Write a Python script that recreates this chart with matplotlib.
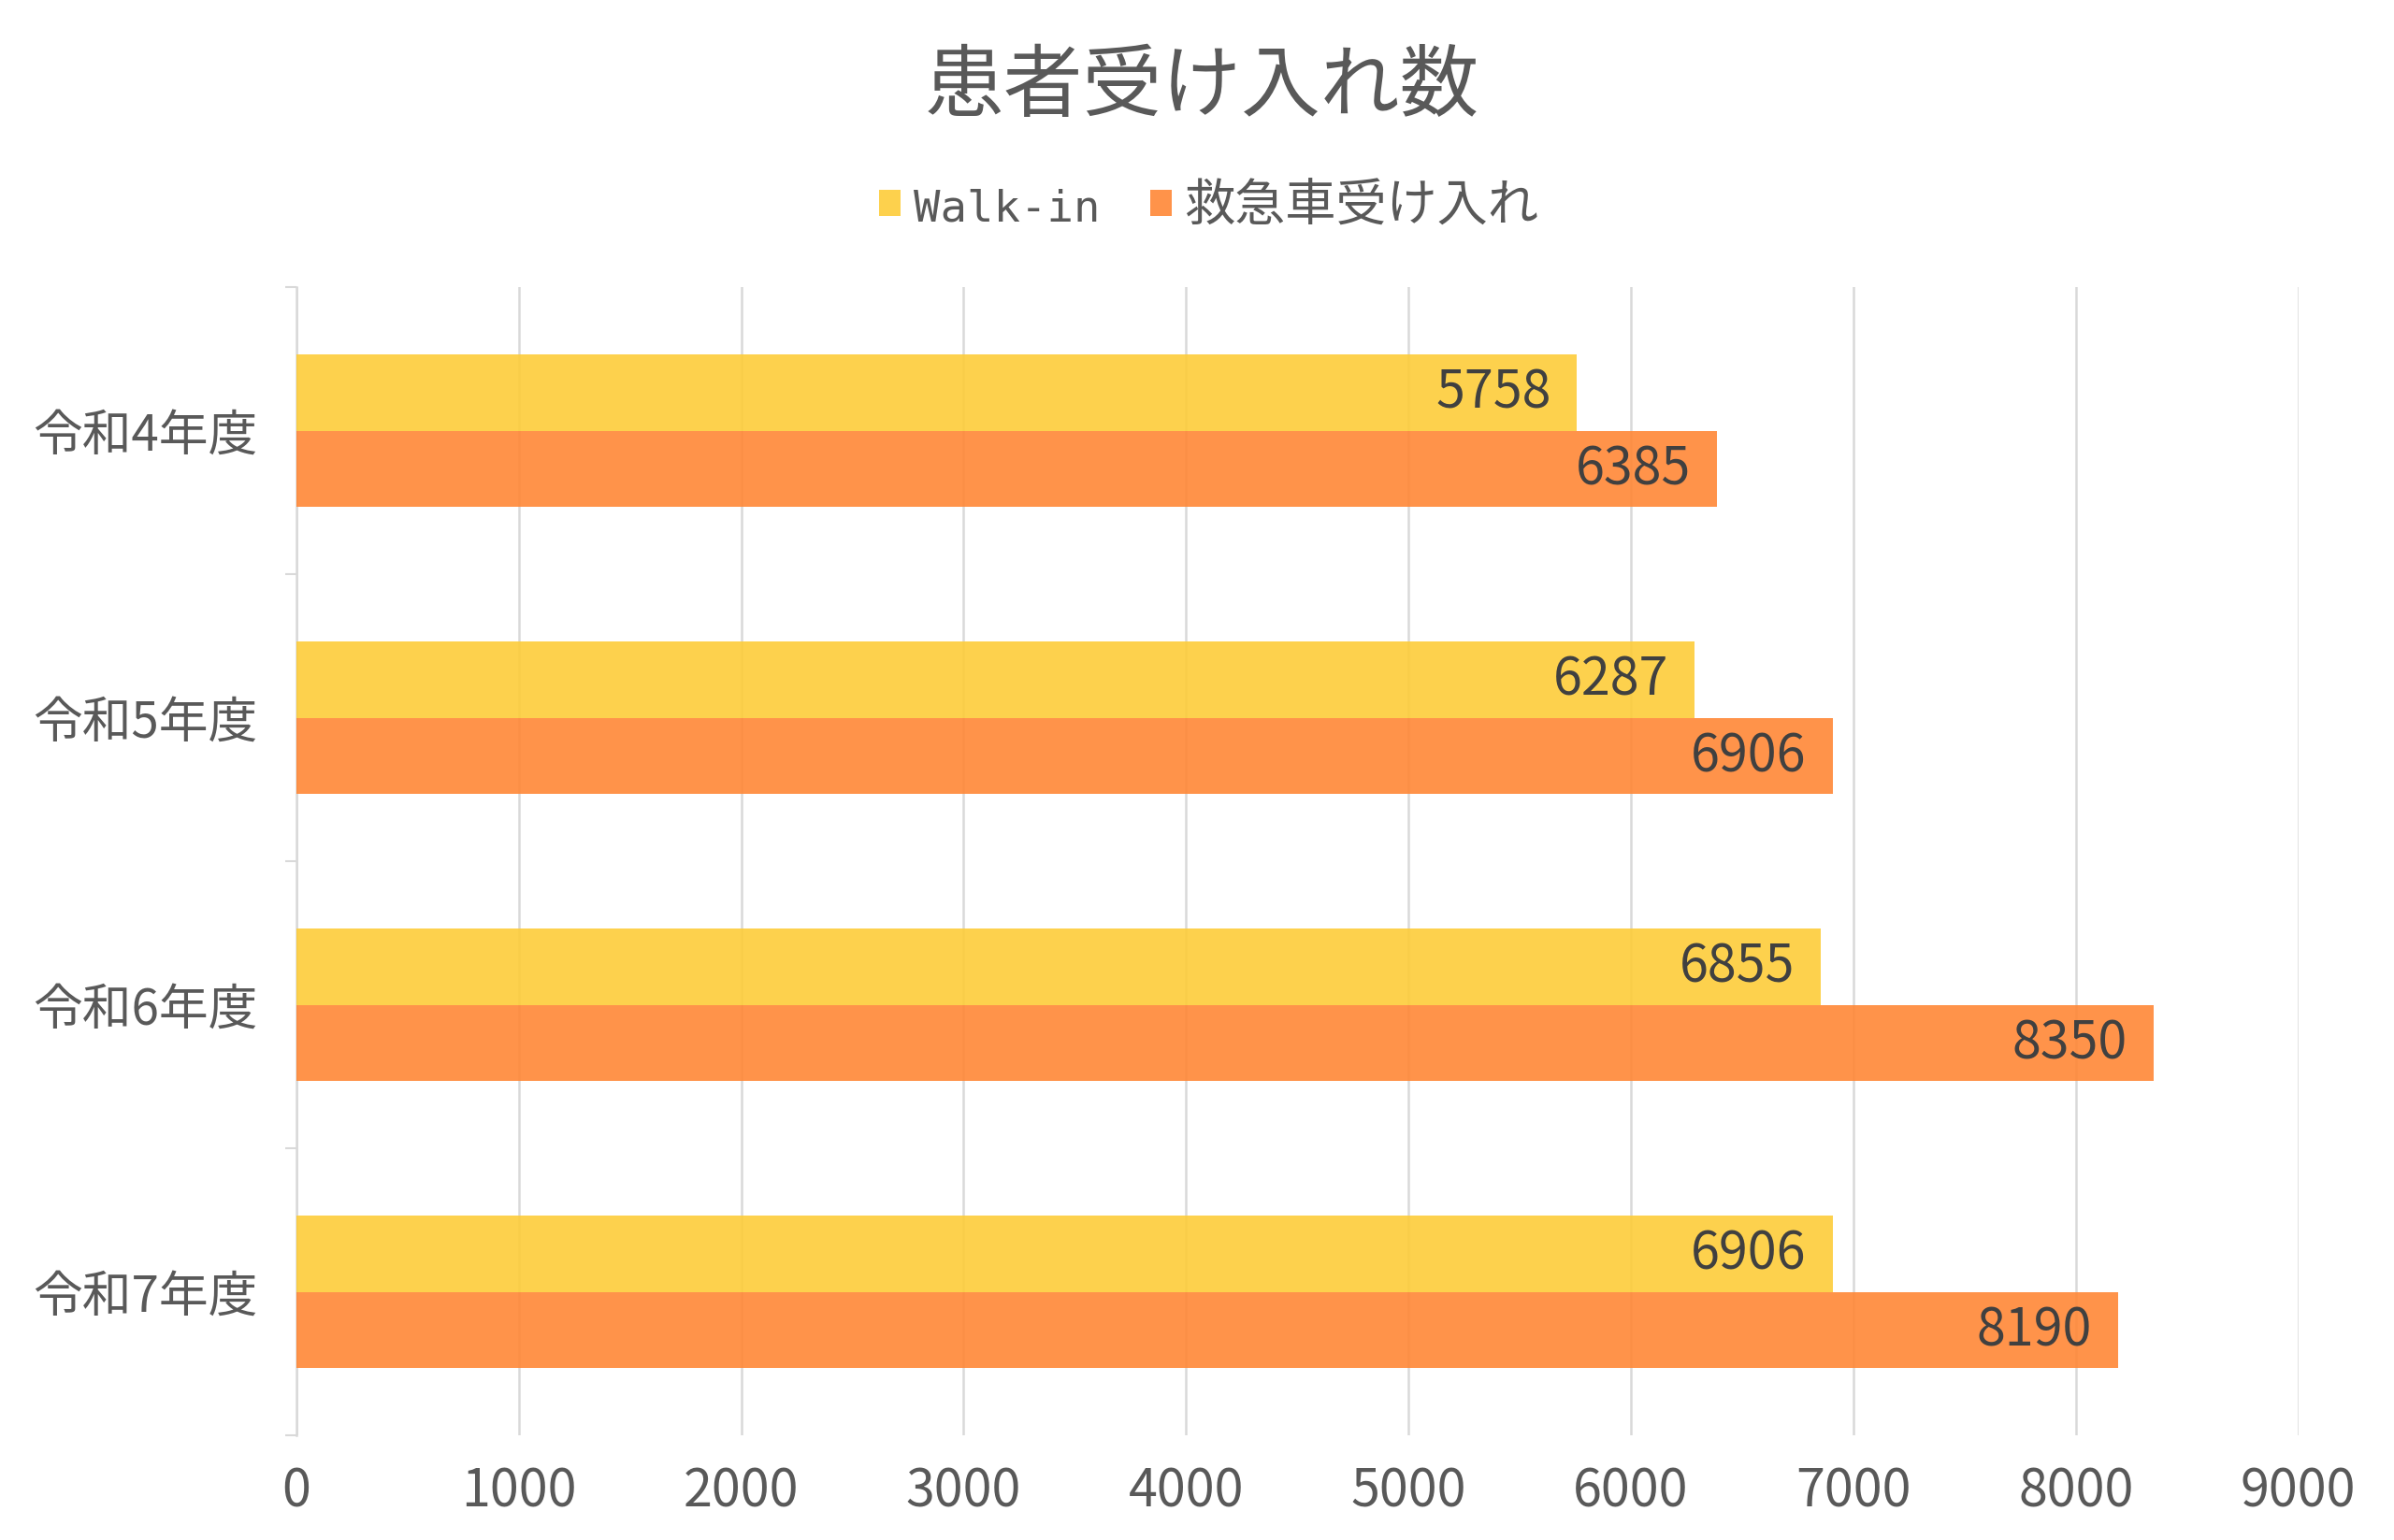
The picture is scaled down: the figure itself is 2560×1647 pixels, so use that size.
import numpy as np
from matplotlib import pyplot as plt

plt.rcParams['font.family'] = ['Noto Sans CJK JP', 'DejaVu Sans']

categories = ['令和4年度', '令和5年度', '令和6年度', '令和7年度']
walk_in = [5758, 6287, 6855, 6906]
ambulance = [6385, 6906, 8350, 8190]
series_names = ['Walk-in', '救急車受け入れ']
xticks = [0, 1000, 2000, 3000, 4000, 5000, 6000, 7000, 8000, 9000]

text_gray = '#595959'
label_dark = '#404040'
grid_gray = '#D9D9D9'

fig = plt.figure(figsize=(25.6, 16.47), dpi=100)
ax = fig.add_axes([0.1238, 0.068, 0.8362, 0.7456])

y = np.arange(len(categories))
h = 0.267
b1 = ax.barh(y - h / 2, walk_in, height=h, color='#FDCC39', alpha=0.9,
             label=series_names[0], zorder=3)
b2 = ax.barh(y + h / 2, ambulance, height=h, color='#FF8736', alpha=0.9,
             label=series_names[1], zorder=3)

# value labels inside the bar end
for bars, vals in ((b1, walk_in), (b2, ambulance)):
    for rect, v in zip(bars, vals):
        ax.annotate(str(v), (v, rect.get_y() + rect.get_height() / 2),
                    xytext=(-20, -1), textcoords='offset points',
                    ha='right', va='center', fontsize=40, color=label_dark,
                    zorder=4)

ax.set_xlim(0, 9000)
ax.set_ylim(3.5, -0.5)
ax.set_xticks(xticks)
ax.set_xticklabels([str(t) for t in xticks], fontsize=40, color=text_gray)
ax.tick_params(axis='x', length=0, pad=23)

ax.set_yticks(y)
ax.set_yticklabels(categories, fontsize=38, color=text_gray)
ax.tick_params(axis='y', which='major', length=0, pad=30)
ax.set_yticks(np.arange(-0.5, 4.0, 1.0), minor=True)
ax.tick_params(axis='y', which='minor', length=9, width=1.5, color=grid_gray)

ax.grid(axis='x', color=grid_gray, linewidth=1.8, zorder=0)
ax.set_axisbelow(True)
for s in ['top', 'right', 'bottom']:
    ax.spines[s].set_visible(False)
ax.spines['left'].set_color(grid_gray)
ax.spines['left'].set_linewidth(1.8)

fig.text(0.502, 0.943, '患者受け入れ数', ha='center', va='center',
         fontsize=61, color=text_gray)

leg = fig.legend(loc='center', bbox_to_anchor=(0.505, 0.866), ncol=2,
                 frameon=False, fontsize=39, handlelength=0.42, handleheight=0.42,
                 handletextpad=0.25, columnspacing=1.0)
for t in leg.get_texts():
    t.set_color(text_gray)
leg.get_texts()[0].set_fontfamily(['DejaVu Sans Mono'])
leg.get_texts()[0].set_fontsize(34)

plt.savefig('out.png', dpi=100)
